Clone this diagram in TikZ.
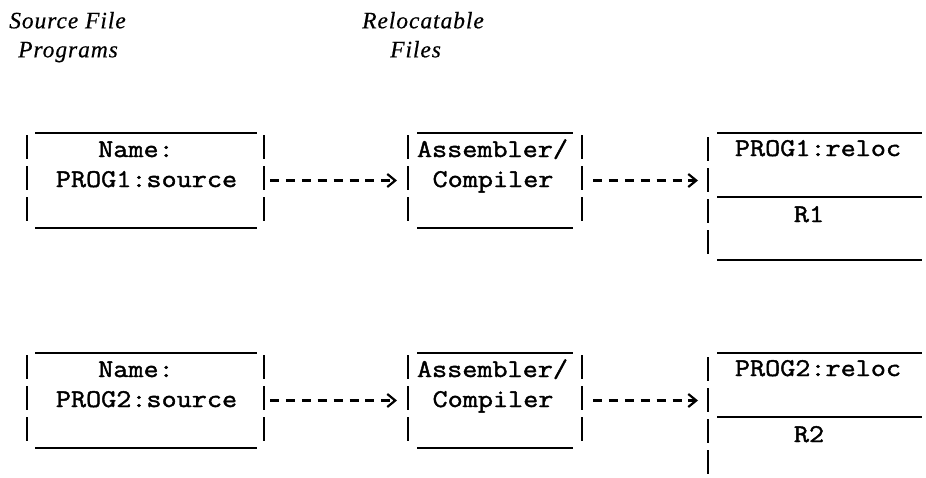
\documentclass[tikz,border=0pt]{standalone}
\usepackage{fontspec}
\usetikzlibrary{arrows.meta}
\newfontfamily\tw[FakeStretch=1.15,FakeBold=1.6]{Latin Modern Mono}
\newfontfamily\hd[LetterSpace=4,FakeBold=0.4]{Liberation Serif}
\tikzset{
  tt/.style={inner sep=0pt, anchor=base, font=\tw\fontsize{25.5}{30}\selectfont},
  head/.style={inner sep=0pt, anchor=base west, font=\hd\itshape\fontsize{23.5}{29}\selectfont},
  rule/.style={line width=2.1pt},
  bar/.style={line width=2.1pt, dash pattern=on 24pt off 7pt},
  frame/.style={draw=none, inner sep=0pt, outer sep=0pt},
  flow/.style={line width=2.2pt, dash pattern=on 9pt off 6.9pt,
    -{Straight Barb[length=8pt,width=13pt,line width=2.2pt]}}
}
\begin{document}
\begin{tikzpicture}[x=1pt,y=-1pt]
\useasboundingbox (0,0) rectangle (926,477);
% headings
\node[head] (h1) at (9,28.3) {Source File};
\node[head] (h2) at (18,57.3) {Programs};
\node[head] (h3) at (362,28.3) {Relocatable};
\node[head] (h4) at (390,57.3) {Files};
\foreach \r/\n in {0/1,220/2}{
  % invisible frames of the boxes
  \node[frame, minimum width=237.3pt, minimum height=95pt] (src\n) at (145.35,180.5+\r) {};
  \node[frame, minimum width=174pt, minimum height=95pt] (asm\n) at (495,180.5+\r) {};
  \node[frame, minimum width=214pt, minimum height=95pt] (rel\n) at (815,180.5+\r) {};
  % box 1
  \draw[rule] (35,133+\r) -- (257,133+\r);
  \draw[rule] (35,228+\r) -- (257,228+\r);
  \draw[bar] (26.7,135+\r) -- (26.7,226+\r);
  \draw[bar] (264,135+\r) -- (264,226+\r);
  \node[tt] (name\n) at (136,157+\r) {Name:};
  \node[tt] (src\n t) at (146.5,187+\r) {PROG\n:source};
  % box 2
  \draw[rule] (417,133+\r) -- (573,133+\r);
  \draw[rule] (417,228+\r) -- (573,228+\r);
  \draw[bar] (408,135+\r) -- (408,226+\r);
  \draw[bar] (582,135+\r) -- (582,226+\r);
  \node[tt] (asm\n a) at (492.5,157+\r) {Assembler/};
  \node[tt] (asm\n c) at (493,187+\r) {Compiler};
  % box 3
  \draw[rule] (717,133+\r) -- (922,133+\r);
  \draw[rule] (717,197+\r) -- (922,197+\r);
  \draw[bar] (708,137+\r) -- (708,258+\r);
  \node[tt] (rel\n a) at (818,156+\r) {PROG\n:reloc};
  \node[tt] (rel\n b) at (809,222+\r) {R\n};
  % connectors
  \draw[flow, shorten <=6pt, shorten >=11pt] (src\n.east) -- (asm\n.west);
  \draw[flow, shorten <=11pt, shorten >=10pt] (asm\n.east) -- (asm\n.east -| rel\n.west);
}
\draw[rule] (717,260) -- (922,260);
\end{tikzpicture}
\end{document}
